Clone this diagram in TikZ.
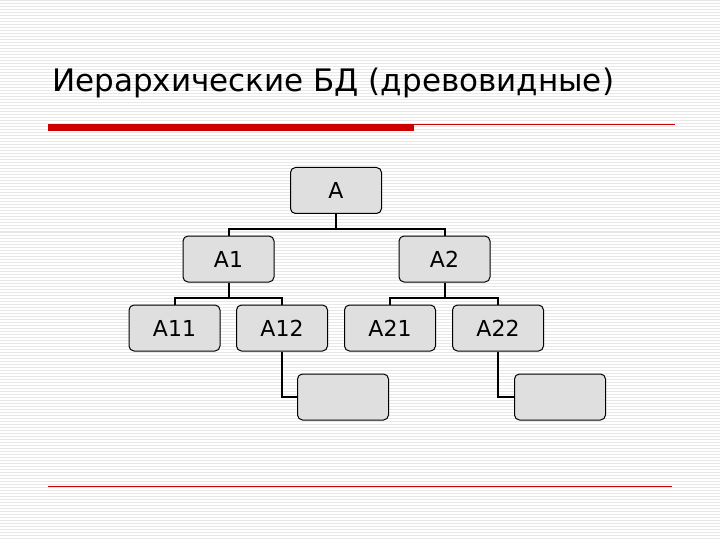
\documentclass[tikz,border=0pt]{standalone}
\usepackage{fontspec}
\setmainfont{DejaVu Sans}
\begin{document}
\begin{tikzpicture}[x=1pt,y=-1pt,
 box/.style={draw=black,line width=1pt,fill=gray!25,rounded corners=5pt,minimum width=91pt,minimum height=46pt,inner sep=0pt,font=\fontsize{22}{26}\selectfont},
 conn/.style={line width=2pt}]
\useasboundingbox (0,0) rectangle (720,540);
\fill[white] (0,0) rectangle (720,540);
\foreach \y in {1,4,...,540} \draw[gray!18,line width=1pt] (0,\y) -- (720,\y);
\node[anchor=base west,inner sep=0pt,font=\fontsize{31}{36}\selectfont] (title) at (52,92) {Иерархические БД (древовидные)};
\fill[red!80!black] (48,124) rectangle (414,131);
\draw[red!80!black,line width=0.8pt] (414,124) coordinate (r1) -- (675,124) coordinate (r2);
\draw[red!80!black,line width=0.8pt] (48,486) coordinate (b1) -- (672,486) coordinate (b2);
\node[box] (A) at (336,190.5) {A};
\node[box] (A1) at (228.5,259) {A1};
\node[box] (A2) at (444.5,259) {A2};
\node[box] (A11) at (174.5,328) {A11};
\node[box] (A12) at (282,328) {A12};
\node[box] (A21) at (390,328) {A21};
\node[box] (A22) at (498,328) {A22};
\node[box] (E1) at (343,397) {};
\node[box] (E2) at (560,397) {};
\draw[conn] (A.south) -- ++(0,15) -| (A1.north);
\draw[conn] (A.south) -- ++(0,15) -| (A2.north);
\draw[conn] (A1.south) -- ++(0,15) -| (A11.north);
\draw[conn] (A1.south) -- ++(0,15) -| (A12.north);
\draw[conn] (A2.south) -- ++(0,15) -| (A21.north);
\draw[conn] (A2.south) -- ++(0,15) -| (A22.north);
\draw[conn] (A12.south) |- (E1.west);
\draw[conn] (A22.south) |- (E2.west);
\end{tikzpicture}
\end{document}
